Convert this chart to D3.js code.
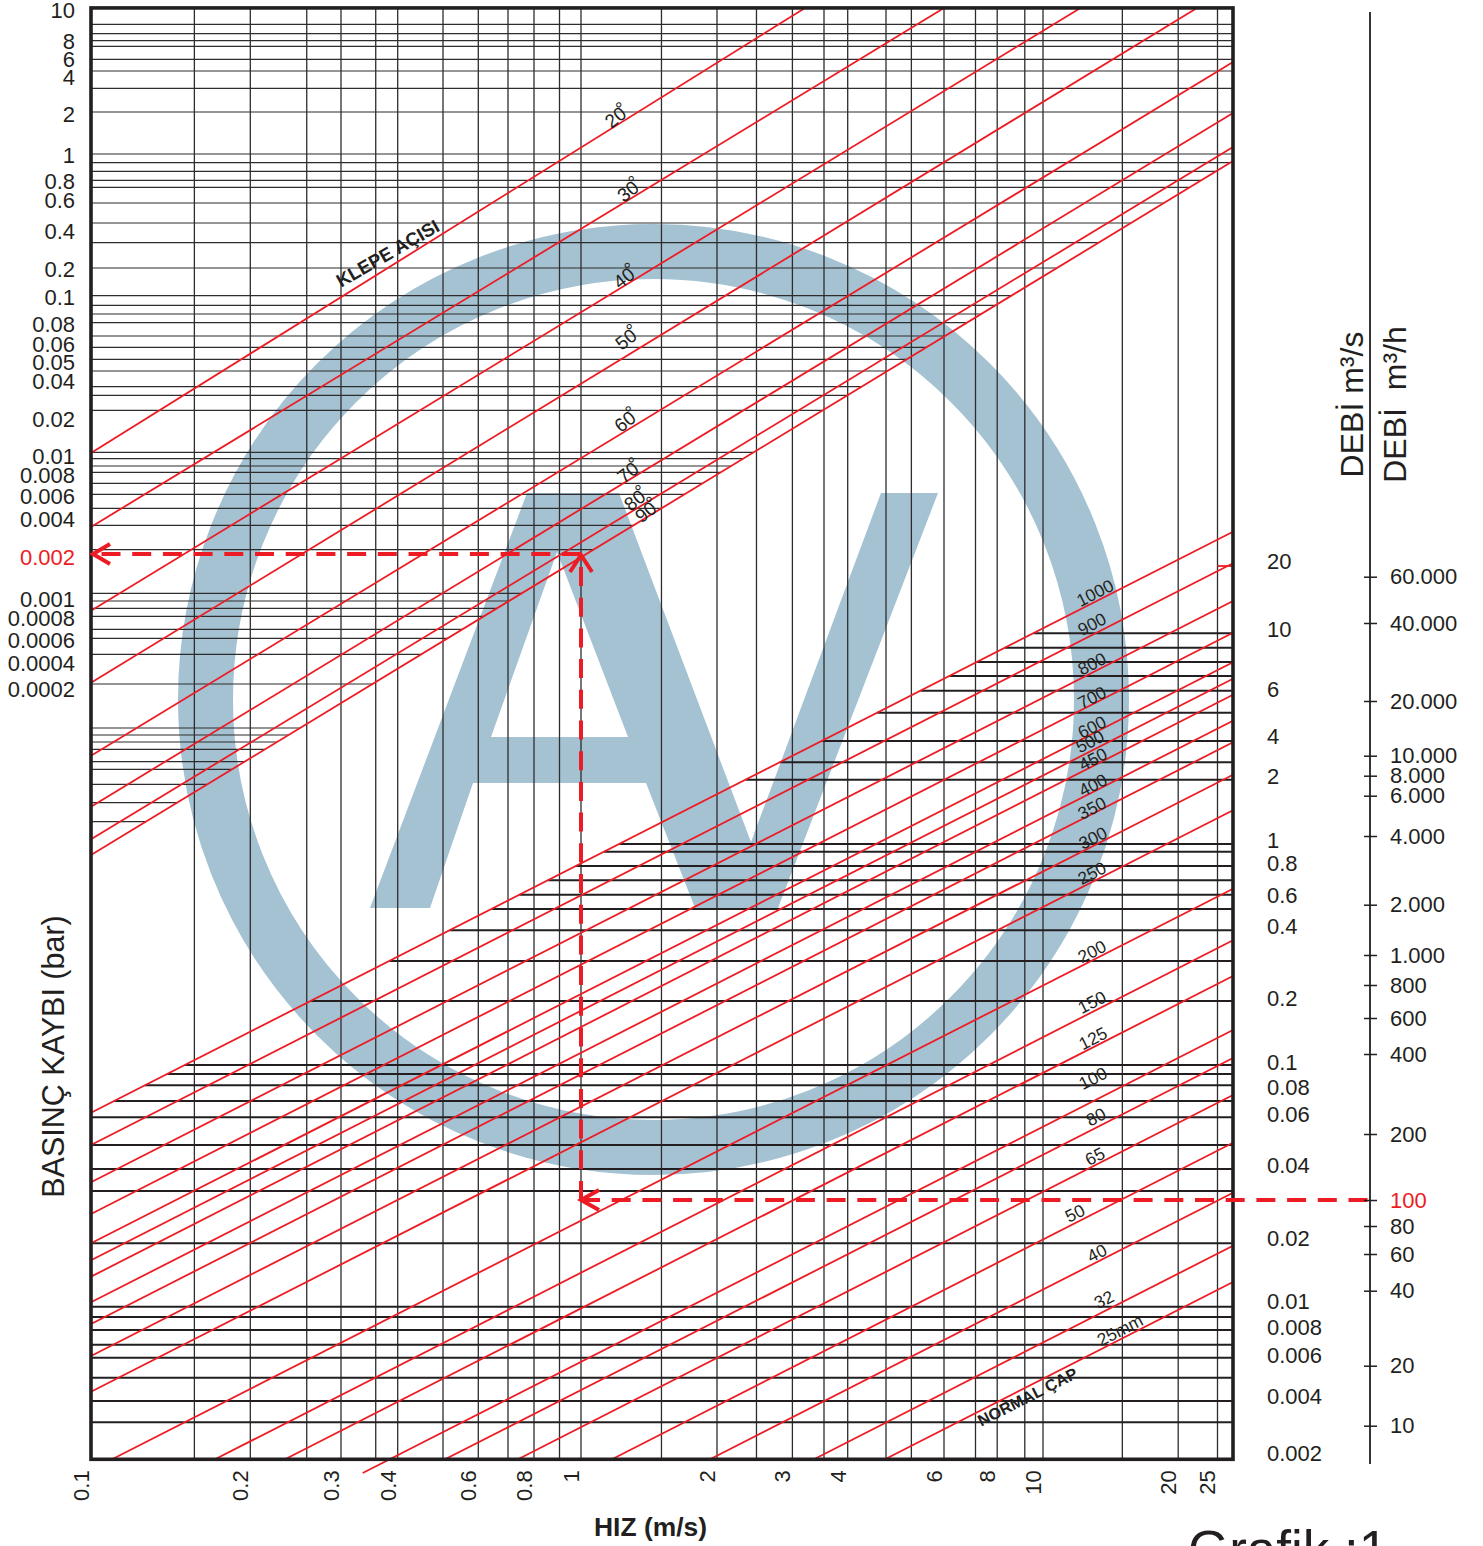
<!DOCTYPE html>
<html lang="tr">
  <head>
    <meta charset="UTF-8" />
    <title>Grafik 1</title>
    <script src="https://d3js.org/d3.v7.min.js"></script>
    <style>
      html, body { margin: 0; padding: 0; background: #fff; overflow: hidden; }
      svg { display: block; }
      text { font-family: "Liberation Sans", Arial, sans-serif; fill: #231f20; }
    </style>
  </head>
  <body>
    <svg width="1483" height="1546"></svg>
    <script>
      // printed tick labels
      const speedTicks = [0.1, 0.2, 0.3, 0.4, 0.6, 0.8, 1, 2, 3, 4, 6, 8, 10, 20, 25];
      const lossTicks = [10, 8, 6, 4, 2, 1, 0.8, 0.6, 0.4, 0.2, 0.1, 0.08, 0.06, 0.05, 0.04, 0.02, 0.01, 0.008, 0.006, 0.004, 0.002, 0.001, 0.0008, 0.0006, 0.0004, 0.0002];
      const flowTicks = [20, 10, 6, 4, 2, 1, 0.8, 0.6, 0.4, 0.2, 0.1, 0.08, 0.06, 0.04, 0.02, 0.01, 0.008, 0.006, 0.004, 0.002];
      const hourlyTicks = [60000, 40000, 20000, 10000, 8000, 6000, 4000, 2000, 1000, 800, 600, 400, 200, 100, 80, 60, 40, 20, 10];

      const speedGrid = [0.1568, 0.2574, 0.3578, 0.5024, 0.6995, 0.903, 1.507, 2.473, 3.536, 4.7, 5.23, 7.114, 9.151, 15.02];
      const lossGrid = [9.022, 8.432, 8.017, 7.35, 5.96, 4.579, 3.237, 2.076, 1.029, 0.9401, 0.8715, 0.805, 0.7272, 0.5769, 0.4441, 0.3244, 0.2062, 0.1034, 0.09337, 0.08689, 0.08086, 0.06732, 0.05803, 0.05139, 0.04498, 0.03605, 0.03082, 0.02344, 0.01072, 0.009699, 0.008929, 0.008314, 0.007183, 0.006146, 0.00483, 0.003569, 0.002295, 0.001099, 0.0009768, 0.0008965, 0.0008161, 0.0006933, 0.0006185, 0.0004686, 0.00023, 0.00007212, 0.00005997, 0.00004987, 0.00004114, 0.00002967, 0.00002429, 0.00001636, 0.00001007, 0.000006103];
      const flowGrid = [9.664, 8.543, 7.559, 6.706, 5.914, 4.905, 3.713, 2.567, 1.936, 0.9679, 0.8971, 0.7806, 0.6856, 0.6016, 0.5016, 0.3862, 0.2866, 0.1936, 0.09736, 0.08984, 0.08122, 0.06903, 0.05858, 0.04694, 0.03851, 0.03125, 0.01888, 0.00958, 0.008769, 0.007808, 0.006688, 0.005842, 0.004794, 0.003765, 0.00291];

      // frame limits in axis units
      const speedMax = 27.3;
      const lossMax = 10.15;
      const flowMin = 0.00186;

      // damper angle lines (klepe acisi)
      const angleNames = ["20", "30", "40", "50", "60", "70", "80", "90"];
      const angleStartLoss = [0.01058, 0.003461, 0.0008716, 0.000238, 0.00003466, 0.000009063, 0.000003838, 0.000002538];
      const angleEndSpeed = [3.203, 6, 12.12, 22.25, 27.3, 27.3, 27.3, 27.3];
      const angleEndLoss = [10.15, 10.15, 10.15, 10.15, 5.608, 2.038, 1.156, 0.9543];

      // nominal diameter lines (normal cap)
      const dnNames = ["1000", "900", "800", "700", "600", "500", "450", "400", "350", "300", "250", "200", "150", "125", "100", "80", "65", "50", "40", "32", "25mm"];
      const dnStartSpeed = [0.1, 0.1, 0.1, 0.1, 0.1, 0.1, 0.1, 0.1, 0.1, 0.1, 0.1, 0.1096, 0.1715, 0.2336, 0.3349, 0.5075, 0.7365, 1.171, 1.93, 3.357, 4.68];
      const dnStartFlow = [0.06102, 0.04694, 0.03394, 0.02512, 0.01888, 0.01569, 0.01313, 0.009949, 0.008258, 0.005941, 0.004174, 0.00186, 0.00186, 0.00186, 0.001576, 0.00186, 0.00186, 0.00186, 0.00186, 0.00186, 0.00186];
      const dnEndFlow = [26.93, 19.54, 13.33, 9.713, 7.54, 6.553, 5.716, 4.583, 3.63, 2.071, 1.39, 0.6353, 0.3505, 0.2477, 0.1414, 0.1044, 0.07353, 0.04781, 0.03075, 0.01839, 0.01239];
      const dnEndSpeed = 27.3;

      // worked example drawn with the dashed arrows
      const exampleSpeed = 1;
      const exampleLoss = 0.002123;
      const exampleLossLabel = 0.002;
      const exampleHourly = 100;

      // stray mark at the right of the frame
      const stubSpeed = [25, 27.3];
      const stubFlow = 19.01;

      // scales: the printed axes are not true logs, so each one is pinned at its ticks
      const x = d3.scaleLog().domain(speedTicks)
        .range([91, 250.3, 341, 397.7, 478.3, 534, 581, 717, 792.4, 847.7, 944, 997.2, 1043, 1178.2, 1217.5]);
      const yLoss = d3.scaleLog().domain(lossTicks)
        .range([10, 41, 59, 77, 114, 155.7, 181, 200, 231, 269.7, 297, 324, 344, 362, 381, 419, 456, 475.7, 496, 519, 557.3, 599, 618, 640.7, 663, 689.3]);
      const yFlow = d3.scaleLog().domain(flowTicks)
        .range([561, 629.3, 689, 736.7, 776.7, 840.7, 863.3, 895, 926.7, 998, 1062, 1087, 1114.3, 1165, 1238, 1301.7, 1327.7, 1355, 1396, 1453.3]);
      const yHourly = d3.scaleLog().domain(hourlyTicks)
        .range([576.7, 623, 701, 755.7, 775.7, 795.7, 836, 904.7, 955, 985, 1018, 1054, 1134, 1200, 1226, 1254, 1290.7, 1365.7, 1425.7]);

      const INK = "#231f20";
      const RED = "#ed1c24";
      const LOGO = "#a5c2d3";

      const svg = d3.select("svg");
      const plotLeft = x(0.1);
      const plotRight = x(speedMax);
      const plotTop = yLoss(lossMax);
      const plotBottom = yFlow(flowMin);
      const hourlyAxisX = 1370;

      // watermark logo
      const logo = svg.append("g").attr("fill", LOGO);
      logo.append("circle")
        .attr("cx", 653.5).attr("cy", 699.5).attr("r", 448)
        .attr("fill", "none").attr("stroke", LOGO).attr("stroke-width", 55);
      logo.append("path")
        .attr("fill-rule", "evenodd")
        .attr("d", "M527,493L619,493L751,842L881,493L938,493L778,908L695,908L646,783L473,783L430,908L370,908Z M491,737L628,737L557,552Z");

      // pixel helpers for the lines the grid stops on
      const anglePoints = angleNames.map((d, i) => [
        [x(0.1), yLoss(angleStartLoss[i])],
        [x(angleEndSpeed[i]), yLoss(angleEndLoss[i])],
      ]);
      const dnPoints = dnNames.map((d, i) => [
        [x(dnStartSpeed[i]), yFlow(dnStartFlow[i])],
        [x(dnEndSpeed), yFlow(dnEndFlow[i])],
      ]);
      const xOnLine = (pts, y) => pts[0][0] + ((y - pts[0][1]) * (pts[1][0] - pts[0][0])) / (pts[1][1] - pts[0][1]);
      const yOnLine = (pts, px) => pts[0][1] + ((px - pts[0][0]) * (pts[1][1] - pts[0][1])) / (pts[1][0] - pts[0][0]);

      // vertical grid
      const grid = svg.append("g");
      grid.selectAll(".vline")
        .data(speedTicks.slice(1).concat(speedGrid))
        .enter().append("line")
        .attr("class", "vline")
        .attr("x1", (d) => x(d)).attr("x2", (d) => x(d))
        .attr("y1", plotTop).attr("y2", plotBottom)
        .attr("stroke", "#2e2c2d").attr("stroke-width", 1.3);

      // upper horizontal lines stop on the 90 degree line
      const lastAngle = anglePoints[anglePoints.length - 1];
      grid.selectAll(".hloss")
        .data(lossGrid)
        .enter().append("line")
        .attr("class", "hloss")
        .attr("x1", plotLeft)
        .attr("x2", (d) => Math.min(plotRight, xOnLine(lastAngle, yLoss(d))))
        .attr("y1", (d) => yLoss(d)).attr("y2", (d) => yLoss(d))
        .attr("stroke", "#2e2c2d").attr("stroke-width", 1.2);

      // lower horizontal lines start on the DN 1000 line
      const firstDn = dnPoints[0];
      grid.selectAll(".hflow")
        .data(flowGrid)
        .enter().append("line")
        .attr("class", "hflow")
        .attr("x1", (d) => Math.max(plotLeft, xOnLine(firstDn, yFlow(d))))
        .attr("x2", plotRight)
        .attr("y1", (d) => yFlow(d)).attr("y2", (d) => yFlow(d))
        .attr("stroke", INK).attr("stroke-width", 2);

      // red families
      const red = svg.append("g").attr("fill", "none").attr("stroke", RED).attr("stroke-width", 1.8);
      const pixelLine = d3.line();
      red.selectAll(".angle").data(anglePoints).enter().append("path")
        .attr("class", "angle").attr("d", pixelLine);
      red.selectAll(".dn").data(dnPoints).enter().append("path")
        .attr("class", "dn").attr("d", pixelLine);
      red.append("line")
        .attr("x1", x(stubSpeed[0])).attr("x2", x(stubSpeed[1]))
        .attr("y1", yFlow(stubFlow)).attr("y2", yFlow(stubFlow));

      // frame
      svg.append("rect")
        .attr("x", plotLeft).attr("y", plotTop)
        .attr("width", plotRight - plotLeft).attr("height", plotBottom - plotTop)
        .attr("fill", "none").attr("stroke", INK).attr("stroke-width", 3.6);

      // dashed worked example
      const exX = x(exampleSpeed);
      const exY = yLoss(exampleLoss);
      const exY2 = yHourly(exampleHourly);
      const dash = svg.append("g").attr("fill", "none").attr("stroke", RED).attr("stroke-width", 4);
      dash.selectAll(".run")
        .data([
          [[exX, exY], [plotLeft + 2, exY]],
          [[exX, exY2], [exX, exY + 1]],
          [[exX, exY2], [hourlyAxisX - 2, exY2]],
        ])
        .enter().append("path")
        .attr("class", "run")
        .attr("stroke-dasharray", "19 11.7")
        .attr("d", pixelLine);
      dash.selectAll(".head")
        .data([
          [[plotLeft + 19, exY - 10], [plotLeft + 2, exY], [plotLeft + 19, exY + 10]],
          [[exX - 11, exY + 18], [exX, exY + 1], [exX + 11, exY + 18]],
          [[exX + 18, exY2 - 10], [exX, exY2], [exX + 18, exY2 + 10]],
        ])
        .enter().append("path")
        .attr("class", "head")
        .attr("d", pixelLine);

      // axes
      const fontAxis = (g) => g.attr("font-family", null).attr("font-size", 22);
      const lossAxis = svg.append("g")
        .attr("transform", `translate(90, 0)`)
        .call(d3.axisLeft(yLoss).tickValues(lossTicks).tickSize(0).tickPadding(15).tickFormat(String))
        .call(fontAxis);
      lossAxis.select(".domain").remove();
      lossAxis.selectAll("text").attr("dy", "0.33em")
        .style("fill", (d) => (d === exampleLossLabel ? RED : INK));

      const flowAxis = svg.append("g")
        .attr("transform", `translate(1252, 0)`)
        .call(d3.axisRight(yFlow).tickValues(flowTicks).tickSize(0).tickPadding(15).tickFormat(String))
        .call(fontAxis);
      flowAxis.select(".domain").remove();
      flowAxis.selectAll("text").attr("dy", "0.33em");

      const dotted = d3.formatLocale({ decimal: ",", thousands: ".", grouping: [3], currency: ["", ""] }).format(",");
      const hourlyAxis = svg.append("g")
        .attr("transform", `translate(${hourlyAxisX}, 0)`)
        .call(d3.axisRight(yHourly).tickValues(hourlyTicks).tickSize(7).tickPadding(13).tickFormat(dotted))
        .call(fontAxis);
      hourlyAxis.select(".domain").remove();
      hourlyAxis.selectAll(".tick line").attr("x1", -6).attr("stroke", INK).attr("stroke-width", 1.5);
      hourlyAxis.selectAll("text").attr("dy", "0.33em")
        .style("fill", (d) => (d === exampleHourly ? RED : INK));
      svg.append("line")
        .attr("x1", hourlyAxisX).attr("x2", hourlyAxisX)
        .attr("y1", 12).attr("y2", 1464)
        .attr("stroke", INK).attr("stroke-width", 1.8);

      const speedAxis = svg.append("g")
        .attr("transform", `translate(0, ${plotBottom})`)
        .call(d3.axisBottom(x).tickValues(speedTicks).tickSize(0).tickFormat(String))
        .call(fontAxis);
      speedAxis.select(".domain").remove();
      speedAxis.selectAll("text")
        .attr("transform", "rotate(-90)")
        .attr("x", -11).attr("y", -10.5).attr("dy", "0.36em")
        .style("text-anchor", "end");

      // line labels, lifted off the line they name
      const dnLabelX = [1095, 1092, 1092, 1092, 1092, 1090, 1093, 1093, 1092, 1093, 1092, 1092, 1092, 1093, 1093, 1096, 1095, 1075, 1097, 1104, 1120];
      const dnLabelLift = [9, 11, 9, 7, 7, 10, 7, 7, 6, 8, 9, 9, 10, 9, 23, 11, 9, 10, 9, 12, 9.5];
      const angleLabelX = [615.5, 628, 624, 626, 625, 628, 634.7, 645.7];
      const angleLabelLift = [8.7, 9, 8, 17, 10, 8, 9.4, 6];
      svg.selectAll(".dn-label")
        .data(dnNames)
        .enter().append("text")
        .attr("class", "dn-label")
        .attr("font-size", 17.5)
        .attr("text-anchor", "middle")
        .attr("dy", "0.35em")
        .attr("transform", (d, i) => `translate(${dnLabelX[i]}, ${yOnLine(dnPoints[i], dnLabelX[i]) - dnLabelLift[i]}) rotate(-27)`)
        .text((d) => d);

      // the degree ring sits high against the digits
      const angleLabel = svg.selectAll(".angle-label")
        .data(angleNames)
        .enter().append("text")
        .attr("class", "angle-label")
        .attr("font-size", 19)
        .attr("x", -10.6)
        .attr("dy", "0.35em")
        .attr("transform", (d, i) => `translate(${angleLabelX[i]}, ${yOnLine(anglePoints[i], angleLabelX[i]) - angleLabelLift[i]}) rotate(-38)`);
      angleLabel.append("tspan").text((d) => d);
      angleLabel.append("tspan").attr("dx", -4).attr("dy", -4).text("°");

      // titles
      const title = (txt, px, py, rot, size, weight, anchor) =>
        svg.append("text")
          .attr("transform", `translate(${px}, ${py}) rotate(${rot})`)
          .attr("font-size", size)
          .attr("font-weight", weight || "normal")
          .attr("text-anchor", anchor || "middle")
          .attr("xml:space", "preserve")
          .text(txt);
      title("BASINÇ KAYBI (bar)", 63.5, 1056.5, -90, 30.5);
      title("HIZ (m/s)", 650.5, 1536, 0, 26.4, "bold");
      title("DEBİ m³/s", 1362.5, 404.5, -90, 32);
      title("DEBİ  m³/h", 1405.7, 404.5, -90, 32);
      title("KLEPE AÇISI", 391, 259, -30, 18.5, "bold");
      title("NORMAL ÇAP", 1030, 1402, -27, 16.2, "bold");
      title("Grafik :1", 1188, 1568, 0, 53, "normal", "start");
    </script>
  </body>
</html>
